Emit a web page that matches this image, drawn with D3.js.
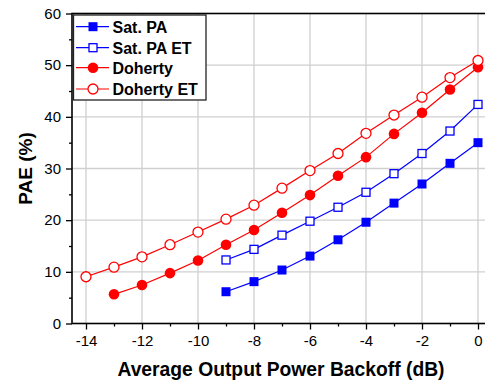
<!DOCTYPE html>
<html>
<head>
<meta charset="utf-8">
<script src="https://cdn.jsdelivr.net/npm/d3@7"></script>
<style>
  html, body { margin: 0; padding: 0; background: #fff; }
  svg { display: block; }
  text { font-family: Arial, "Liberation Sans", sans-serif; fill: #000; }
</style>
</head>
<body>
<svg id="chart" width="485" height="385"></svg>
<script>
const xTicks = [-14, -12, -10, -8, -6, -4, -2, 0];
const yTicks = [0, 10, 20, 30, 40, 50, 60];

const satPA_x = [-9, -8, -7, -6, -5, -4, -3, -2, -1, 0];
const satPA = [6.15, 8.1, 10.35, 13.05, 16.2, 19.6, 23.3, 27.0, 31.0, 35.0];

const satPAET_x = [-9, -8, -7, -6, -5, -4, -3, -2, -1, 0];
const satPAET = [12.3, 14.35, 17.1, 19.8, 22.5, 25.4, 29.0, 32.9, 37.25, 42.4];

const doherty_x = [-13, -12, -11, -10, -9, -8, -7, -6, -5, -4, -3, -2, -1, 0];
const doherty = [5.65, 7.45, 9.75, 12.2, 15.25, 18.1, 21.45, 24.85, 28.6, 32.2, 36.7, 40.8, 45.3, 49.6];

const dohertyET_x = [-14, -13, -12, -11, -10, -9, -8, -7, -6, -5, -4, -3, -2, -1, 0];
const dohertyET = [9.05, 10.9, 12.9, 15.25, 17.7, 20.2, 22.9, 26.2, 29.6, 32.9, 36.8, 40.35, 43.8, 47.6, 50.9];

const seriesNames = ["Sat. PA", "Sat. PA ET", "Doherty", "Doherty ET"];

const series = [
  {name: seriesNames[0], xs: satPA_x, ys: satPA, color: "#0000FF", shape: "square", filled: true},
  {name: seriesNames[1], xs: satPAET_x, ys: satPAET, color: "#0000FF", shape: "square", filled: false},
  {name: seriesNames[2], xs: doherty_x, ys: doherty, color: "#FF0000", shape: "circle", filled: true},
  {name: seriesNames[3], xs: dohertyET_x, ys: dohertyET, color: "#FF0000", shape: "circle", filled: false}
];

const svg = d3.select("#chart");
const L = 72, R = 492, T = 13.5, B = 323.5;
const x = d3.scaleLinear().domain([-14.5, 0.5]).range([L, R]);
const y = d3.scaleLinear().domain([0, 60]).range([B, T]);

// grid
const grid = svg.append("g");
grid.selectAll("line.gx").data(xTicks).enter().append("line")
  .attr("x1", d => x(d)).attr("x2", d => x(d)).attr("y1", T).attr("y2", B)
  .attr("stroke", "#d0d0d0").attr("stroke-width", 1.3);
grid.selectAll("line.gy").data(yTicks.filter(d => d > 0 && d < 60)).enter().append("line")
  .attr("x1", L).attr("x2", R).attr("y1", d => y(d)).attr("y2", d => y(d))
  .attr("stroke", "#d0d0d0").attr("stroke-width", 1.3);

// frame
svg.append("rect").attr("x", L).attr("y", T).attr("width", R - L).attr("height", B - T)
  .attr("fill", "none").attr("stroke", "#000").attr("stroke-width", 1.6);

// axes
const xAxis = d3.axisBottom(x).tickValues(xTicks).tickSize(6).tickPadding(6).tickFormat(d => d === 0 ? "0" : "-" + Math.abs(d));
const gx = svg.append("g").attr("transform", `translate(0,${B})`).call(xAxis);
const xMinor = d3.axisBottom(x).tickValues(d3.range(-13, 1, 2)).tickSize(3).tickFormat("");
const gxm = svg.append("g").attr("transform", `translate(0,${B})`).call(xMinor);

const yAxis = d3.axisLeft(y).tickValues(yTicks).tickSize(6).tickPadding(5);
const gy = svg.append("g").attr("transform", `translate(${L},0)`).call(yAxis);
const yMinor = d3.axisLeft(y).tickValues(d3.range(5, 60, 10)).tickSize(3).tickFormat("");
const gym = svg.append("g").attr("transform", `translate(${L},0)`).call(yMinor);

[gx, gxm, gy, gym].forEach(g => {
  g.select(".domain").remove();
  g.selectAll(".tick line").attr("stroke", "#000").attr("stroke-width", 1.3);
  g.selectAll(".tick text").attr("font-size", 15).attr("font-family", "Arial, 'Liberation Sans', sans-serif").attr("fill", "#000");
});

// lines and markers
const line = d3.line().x(d => x(d[0])).y(d => y(d[1]));
series.forEach(s => {
  const pts = s.xs.map((v, i) => [v, s.ys[i]]);
  const g = svg.append("g");
  g.append("path").datum(pts).attr("d", line).attr("fill", "none")
    .attr("stroke", s.color).attr("stroke-width", 1.2);
  drawMarkers(g, pts.map(p => [x(p[0]), y(p[1])]), s);
});

function drawMarkers(g, pts, s) {
  if (s.shape === "square") {
    const a = s.filled ? 9 : 8;
    g.selectAll("rect").data(pts).enter().append("rect")
      .attr("x", d => d[0] - a / 2).attr("y", d => d[1] - a / 2)
      .attr("width", a).attr("height", a)
      .attr("fill", s.filled ? s.color : "#fff")
      .attr("stroke", s.color).attr("stroke-width", s.filled ? 0 : 1.3);
  } else {
    const r = s.filled ? 5.3 : 5;
    g.selectAll("circle").data(pts).enter().append("circle")
      .attr("cx", d => d[0]).attr("cy", d => d[1]).attr("r", r)
      .attr("fill", s.filled ? s.color : "#fff")
      .attr("stroke", s.color).attr("stroke-width", s.filled ? 0 : 1.3);
  }
}

// legend
const lg = svg.append("g");
lg.append("rect").attr("x", 73.5).attr("y", 15).attr("width", 132.5).attr("height", 85)
  .attr("fill", "#fff").attr("stroke", "#222").attr("stroke-width", 1.3);
const legY = [26.7, 47.7, 67.7, 89];
series.forEach((s, i) => {
  const yy = legY[i];
  lg.append("line").attr("x1", 76).attr("x2", 109).attr("y1", yy).attr("y2", yy)
    .attr("stroke", s.color).attr("stroke-width", 1.2);
  drawMarkers(lg.append("g"), [[93, yy]], s);
  lg.append("text").attr("x", 112.5).attr("y", yy + 5.8)
    .attr("font-size", 16).attr("font-weight", "bold").text(s.name);
});

// axis titles
svg.append("text").attr("x", 281).attr("y", 376).attr("text-anchor", "middle")
  .attr("font-size", 19.3).attr("font-weight", "bold").text("Average Output Power Backoff (dB)");
svg.append("text").attr("transform", `translate(32,${(T + B) / 2}) rotate(-90)`)
  .attr("text-anchor", "middle").attr("font-size", 19).attr("font-weight", "bold").text("PAE (%)");
</script>
</body>
</html>
